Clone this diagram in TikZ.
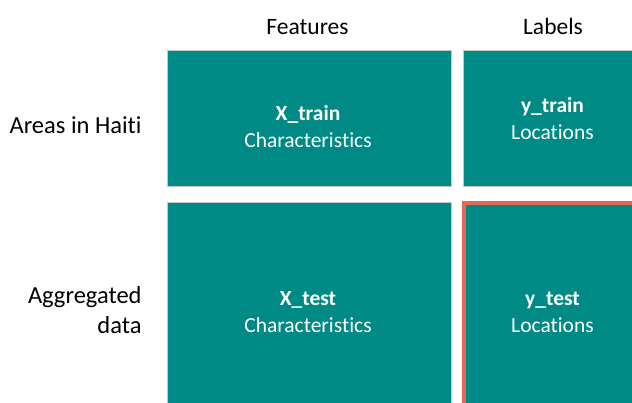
\documentclass[tikz,border=0pt]{standalone}
\usepackage{fontspec}
\setmainfont[Ligatures=NoCommon]{Carlito}
\definecolor{boxteal}{HTML}{008A85}
\definecolor{hlred}{HTML}{E2685A}
\tikzset{
  cellbox/.style={fill=boxteal, draw=black!22, line width=0.7pt, anchor=north west, inner sep=0pt},
  boxtitle/.style={text=white, anchor=base, inner sep=0pt, font=\fontsize{21.5}{24}\selectfont\bfseries},
  boxsub/.style={text=white, anchor=base, inner sep=0pt, font=\fontsize{21.5}{24}\selectfont},
  header/.style={anchor=base, inner sep=0pt, font=\fontsize{23.5}{26}\selectfont},
  rowlab/.style={anchor=base east, inner sep=0pt, font=\fontsize{24.5}{27}\selectfont},
}
\begin{document}
\begin{tikzpicture}[x=1pt,y=-1pt]
\useasboundingbox (0,0) rectangle (632,403);
% boxes
\node[cellbox, minimum width=284pt, minimum height=136pt] (xtrain) at (166.5,50) {};
\node[cellbox, minimum width=180pt, minimum height=136pt] (ytrain) at (463,50) {};
\node[cellbox, minimum width=284pt, minimum height=205pt] (xtest) at (166.5,202) {};
\node[cellbox, minimum width=180pt, minimum height=205pt] (ytest) at (461.5,201) {};
\draw[hlred, line width=4pt] ([xshift=2pt,yshift=-2pt]ytest.north west) rectangle ([xshift=-2pt,yshift=2pt]ytest.south east);
% box texts
\node[boxtitle] (t1) at (308,120.7) {X\_train};
\node[boxsub]   (s1) at (308,147.3) {Characteristics};
\node[boxtitle] (t2) at (552.5,113) {y\_train};
\node[boxsub]   (s2) at (552.5,139.7) {Locations};
\node[boxtitle] (t3) at (308,306) {X\_test};
\node[boxsub]   (s3) at (308,332.7) {Characteristics};
\node[boxtitle] (t4) at (552.5,306) {y\_test};
\node[boxsub]   (s4) at (552.5,332.7) {Locations};
% headers
\node[header] (hf) at (307.5,35) {Features};
\node[header] (hl) at (553,35) {Labels};
% row labels
\node[rowlab] (r1) at (141.7,134) {Areas in Haiti};
\node[rowlab] (r2) at (141.7,304) {Aggregated};
\node[rowlab] (r3) at (141.7,333.3) {data};
\end{tikzpicture}
\end{document}
